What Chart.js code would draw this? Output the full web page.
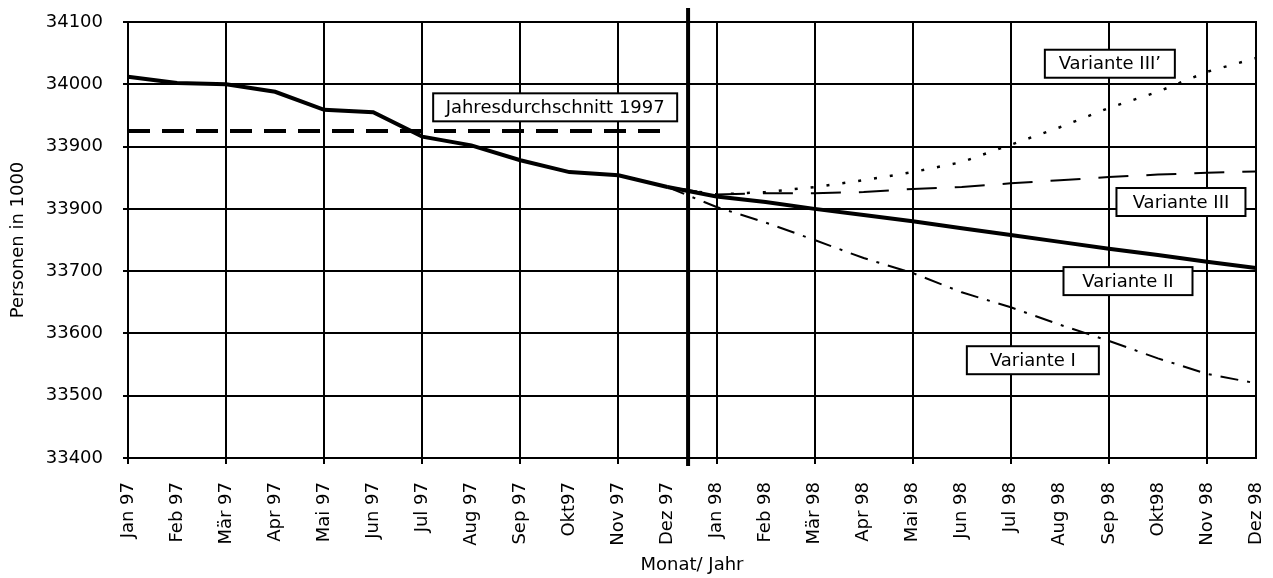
<!DOCTYPE html>
<html>
<head>
<meta charset="utf-8">
<script src="https://cdn.jsdelivr.net/npm/chart.js@4"></script>
<style>
  html, body { margin: 0; padding: 0; background: #fff; }
  canvas { display: block; }
</style>
</head>
<body>
<canvas id="myChart" width="1273" height="578"></canvas>
<script>
// Monate (x-Achse), so wie sie im Bild stehen
var months = ['Jan 97', 'Feb 97', 'Mär 97', 'Apr 97', 'Mai 97', 'Jun 97', 'Jul 97', 'Aug 97', 'Sep 97', 'Okt97', 'Nov 97', 'Dez 97',
              'Jan 98', 'Feb 98', 'Mär 98', 'Apr 98', 'Mai 98', 'Jun 98', 'Jul 98', 'Aug 98', 'Sep 98', 'Okt98', 'Nov 98', 'Dez 98'];

// Ist-Werte 1997 (Personen in 1000)
var ist1997 = [34012, 34002, 34000, 33988, 33959, 33955, 33916, 33902, 33878, 33859, 33854, 33835];
var mittel1997 = [33925, 33925, 33925, 33925, 33925, 33925, 33925, 33925, 33925, 33925, 33925, 33925];

// Varianten ab Dez 97 bis Dez 98
var variante1 = [33835, 33803, 33778, 33750, 33721, 33697, 33666, 33642, 33614, 33588, 33560, 33535, 33520];
var variante2 = [33835, 33820, 33811, 33800, 33790, 33780, 33769, 33758, 33747, 33736, 33726, 33715, 33705];
var variante3 = [33835, 33823, 33825, 33825, 33827, 33832, 33835, 33841, 33846, 33851, 33855, 33858, 33860];
var variante3s = [33835, 33823, 33827, 33835, 33846, 33859, 33875, 33903, 33931, 33962, 33988, 34020, 34042];

// Beschriftung der y-Achse (wie im Original, inkl. doppelter 33900)
var yTickLabels = ['33400', '33500', '33600', '33700', '33900', '33900', '34000', '34100'];

// Varianten erst ab Dez 97 (Index 11)
function fromDec97(arr) {
    var out = [];
    for (var i = 0; i < 11; i++) out.push(null);
    return out.concat(arr);
}

var FONT = 'DejaVu Sans';

// Rahmen, Trennlinie und Textkästen
var decor = {
    id: 'decor',
    afterDatasetsDraw: function (chart) {
        var c = chart.ctx, a = chart.chartArea;
        var xs = chart.scales.x, ys = chart.scales.y;
        c.save();
        c.strokeStyle = '#000';
        c.lineWidth = 2;
        c.strokeRect(a.left, a.top, a.right - a.left, a.bottom - a.top);

        // Trennlinie zwischen 1997 und 1998
        var sx = xs.getPixelForValue(11.42);
        c.lineWidth = 4;
        c.beginPath();
        c.moveTo(sx, a.top - 14);
        c.lineTo(sx, a.bottom + 8);
        c.stroke();

        var boxes = [
            { text: 'Jahresdurchschnitt 1997', x: 8.71, y: 33963, w: 244 },
            { text: 'Variante III\u2019', x: 20.02, y: 34033, w: 130 },
            { text: 'Variante III', x: 21.47, y: 33811, w: 129 },
            { text: 'Variante II', x: 20.39, y: 33684, w: 129 },
            { text: 'Variante I', x: 18.45, y: 33557, w: 132 }
        ];
        c.font = '18px "' + FONT + '"';
        c.textAlign = 'center';
        c.textBaseline = 'middle';
        boxes.forEach(function (b) {
            var cx = xs.getPixelForValue(b.x), cy = ys.getPixelForValue(b.y);
            var h = 28;
            c.fillStyle = '#fff';
            c.fillRect(cx - b.w / 2, cy - h / 2, b.w, h);
            c.lineWidth = 2;
            c.strokeRect(cx - b.w / 2, cy - h / 2, b.w, h);
            c.fillStyle = '#000';
            c.fillText(b.text, cx, cy + 1);
        });
        c.restore();
    }
};

var ctx = document.getElementById('myChart').getContext('2d');

var myChart = new Chart(ctx, {
    type: 'line',
    data: {
        labels: months,
        datasets: [
            {
                label: 'Jahresdurchschnitt 1997',
                data: mittel1997,
                borderColor: '#000',
                borderWidth: 4,
                borderDash: [22, 12]
            },
            {
                label: 'Variante III*',
                data: fromDec97(variante3s),
                borderColor: '#000',
                borderWidth: 2.5,
                borderDash: [3, 13]
            },
            {
                label: 'Variante III',
                data: fromDec97(variante3),
                borderColor: '#000',
                borderWidth: 2,
                borderDash: [30, 18]
            },
            {
                label: 'Variante I',
                data: fromDec97(variante1),
                borderColor: '#000',
                borderWidth: 2,
                borderDash: [18, 9, 3, 9]
            },
            {
                label: 'Variante II',
                data: fromDec97(variante2),
                borderColor: '#000',
                borderWidth: 4
            },
            {
                label: 'Ist 1997',
                data: ist1997,
                borderColor: '#000',
                borderWidth: 4
            }
        ]
    },
    options: {
        responsive: false,
        animation: false,
        devicePixelRatio: 1,
        layout: { padding: { top: 22, right: 17, left: 0, bottom: 0 } },
        elements: {
            point: { radius: 0 },
            line: { tension: 0, fill: false }
        },
        plugins: {
            legend: { display: false },
            tooltip: { enabled: false }
        },
        scales: {
            x: {
                offset: false,
                afterFit: function (scale) {
                    scale.height = 120;
                    scale.paddingLeft = 0;
                    scale.paddingRight = 0;
                },
                grid: {
                    color: function (c) { return c.index % 2 === 0 ? '#000' : 'rgba(0,0,0,0)'; },
                    lineWidth: 2,
                    tickLength: 6,
                    drawOnChartArea: true
                },
                border: { color: '#000', width: 2 },
                ticks: {
                    autoSkip: false,
                    maxRotation: 90,
                    minRotation: 90,
                    padding: 18,
                    color: '#000',
                    font: { family: FONT, size: 18 }
                },
                title: {
                    display: true,
                    text: 'Monat/ Jahr',
                    color: '#000',
                    padding: { top: 0, bottom: 2 },
                    font: { family: FONT, size: 18 }
                }
            },
            y: {
                min: 33400,
                max: 34100,
                afterFit: function (scale) {
                    scale.width = 128;
                    scale.paddingTop = 0;
                    scale.paddingBottom = 0;
                },
                grid: {
                    color: '#000',
                    lineWidth: 2,
                    tickLength: 5
                },
                border: { color: '#000', width: 2 },
                ticks: {
                    stepSize: 100,
                    padding: 20,
                    color: '#000',
                    font: { family: FONT, size: 18 },
                    callback: function (value, index) { return yTickLabels[index]; }
                },
                title: {
                    display: true,
                    text: 'Personen in 1000',
                    color: '#000',
                    padding: { top: 8, bottom: 0 },
                    font: { family: FONT, size: 18 }
                }
            }
        }
    },
    plugins: [decor]
});
</script>
</body>
</html>
